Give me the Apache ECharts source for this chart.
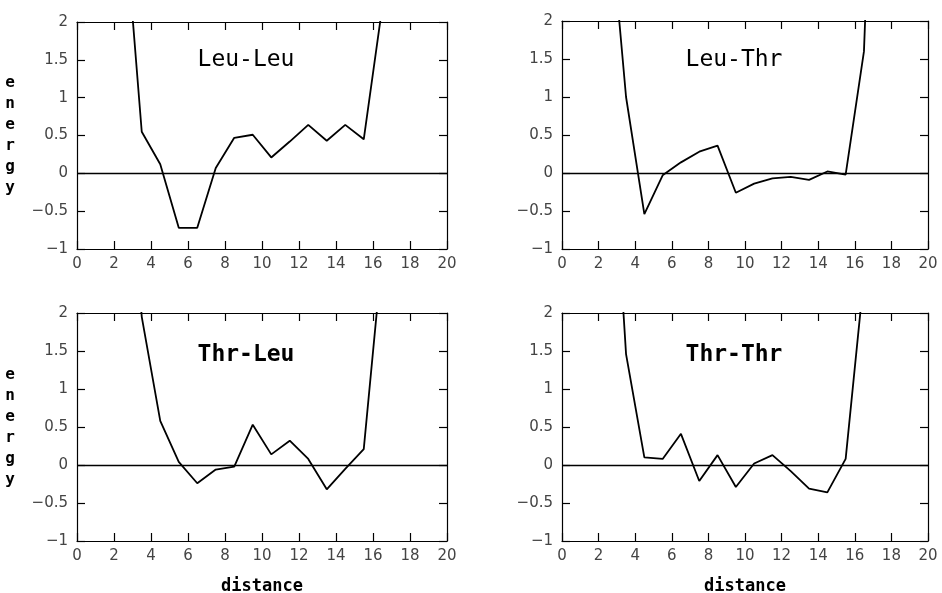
<!DOCTYPE html>
<html>
<head>
<meta charset="utf-8">
<script src="https://cdn.jsdelivr.net/npm/echarts@6/dist/echarts.min.js"></script>
<style>
  html, body { margin: 0; padding: 0; background: #fff; }
  #chart { width: 942px; height: 593px; }
</style>
</head>
<body>
<div id="chart"></div>
<script>
// pair distances (bin centres)
const distance = [2.5, 3.5, 4.5, 5.5, 6.5, 7.5, 8.5, 9.5, 10.5, 11.5, 12.5, 13.5, 14.5, 15.5, 16.5, 17.5];

const leuLeu = [3.6, 0.55, 0.12, -0.72, -0.72, 0.07, 0.47, 0.51, 0.21, 0.42, 0.64, 0.43, 0.64, 0.45, 2.2, 6];
const leuThr = [3.7, 1.0, -0.54, -0.03, 0.14, 0.28, 0.36, -0.26, -0.14, -0.07, -0.05, -0.09, 0.02, -0.02, 1.6, 8];
const thrLeu = [5.0, 1.95, 0.58, 0.04, -0.24, -0.06, -0.02, 0.53, 0.14, 0.32, 0.08, -0.32, -0.05, 0.21, 2.77, 6];
const thrThr = [5.3, 1.46, 0.1, 0.08, 0.41, -0.21, 0.13, -0.29, 0.02, 0.13, -0.08, -0.31, -0.36, 0.08, 2.48, 6];

const panelNames = ['Leu-Leu', 'Leu-Thr', 'Thr-Leu', 'Thr-Thr'];
const panelData = [leuLeu, leuThr, thrLeu, thrThr];

const grids = [
    {left: 77, top: 22, width: 370, height: 227, outerBoundsMode: 'none'},
    {left: 562, top: 21, width: 366, height: 228, outerBoundsMode: 'none'},
    {left: 77, top: 313, width: 370, height: 228, outerBoundsMode: 'none'},
    {left: 562, top: 313, width: 366, height: 228, outerBoundsMode: 'none'}
];
const titlePos = [[246, 60], [734, 60], [246, 355], [734, 355]];

const MONO = '"DejaVu Sans Mono", monospace';
const tickLabel = {
    fontFamily: '"DejaVu Sans", sans-serif',
    fontSize: 15,
    color: '#444',
    formatter: (v) => (v < 0 ? '\u2212' + Math.abs(v) : String(v))
};
const line = {show: true, onZero: false, lineStyle: {color: '#000', width: 1.2}};
const tick = {show: true, inside: true, length: 8, lineStyle: {color: '#000', width: 1.2}};

const xAxes = [];
const yAxes = [];
const series = [];

grids.forEach((g, i) => {
    const bottom = i >= 2;
    const left = i % 2 === 0;
    xAxes.push({
        type: 'value', gridIndex: i, min: 0, max: 20, interval: 2,
        position: 'bottom',
        axisLine: line, axisTick: tick, splitLine: {show: false},
        axisLabel: Object.assign({margin: 8}, tickLabel),
        name: bottom ? 'distance' : '',
        nameLocation: 'middle', nameGap: 37,
        nameTextStyle: {fontFamily: MONO, fontWeight: 'bold', fontSize: 17, color: '#000'}
    });
    yAxes.push({
        type: 'value', gridIndex: i, min: -1, max: 2, interval: 0.5,
        position: 'left',
        axisLine: line, axisTick: tick, splitLine: {show: false},
        axisLabel: Object.assign({margin: 9}, tickLabel),
        name: left ? 'e\nn\ne\nr\ng\ny' : '',
        nameLocation: 'middle', nameRotate: 0, nameGap: 62,
        nameTextStyle: {fontFamily: MONO, fontWeight: 'bold', fontSize: 16, lineHeight: 21, color: '#000'}
    });
    series.push({
        type: 'line',
        xAxisIndex: i, yAxisIndex: i,
        data: distance.map((d, k) => [d, panelData[i][k]]),
        showSymbol: false, symbol: 'none', clip: true,
        lineStyle: {color: '#000', width: 1.8},
        animation: false,
        markLine: {
            silent: true, symbol: 'none', label: {show: false},
            lineStyle: {color: '#000', width: 1.4, type: 'solid'},
            data: [{yAxis: 0}]
        }
    });
});

// frame: top and right axes with inward ticks
grids.forEach((g, i) => {
    xAxes.push({
        type: 'value', gridIndex: i, min: 0, max: 20, interval: 2,
        position: 'top', axisLine: line, axisTick: tick,
        axisLabel: {show: false}, splitLine: {show: false}
    });
    yAxes.push({
        type: 'value', gridIndex: i, min: -1, max: 2, interval: 0.5,
        position: 'right', axisLine: line, axisTick: tick,
        axisLabel: {show: false}, splitLine: {show: false}
    });
});

const chart = echarts.init(document.getElementById('chart'));
chart.setOption({
    backgroundColor: '#fff',
    animation: false,
    grid: grids,
    xAxis: xAxes,
    yAxis: yAxes,
    series: series,
    graphic: panelNames.map((name, i) => ({
        type: 'text',
        x: titlePos[i][0], y: titlePos[i][1],
        style: {
            text: name,
            fontFamily: MONO,
            fontSize: 23,
            fontWeight: i >= 2 ? 'bold' : 'normal',
            fill: '#000',
            align: 'center',
            verticalAlign: 'middle'
        }
    }))
});
window.onresize = () => chart.resize();
</script>
</body>
</html>
